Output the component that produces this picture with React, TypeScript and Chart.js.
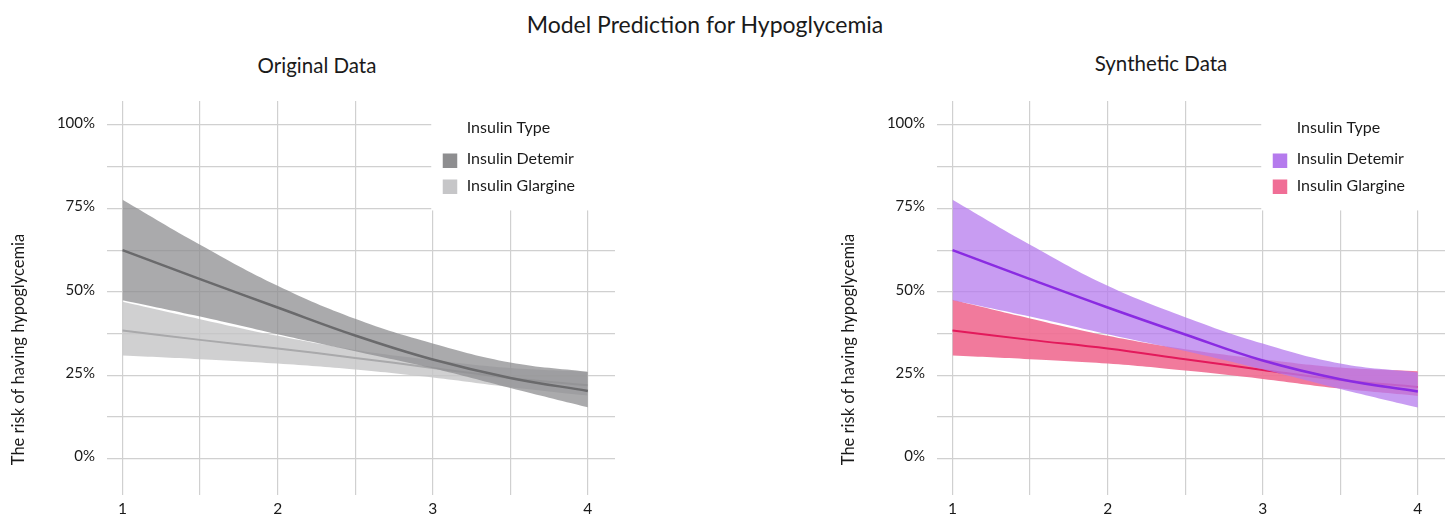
import React, { useEffect, useRef } from 'react';
import { Chart, registerables } from 'chart.js';

Chart.register(...registerables);

const FONT = 'Lato, "Noto Sans", sans-serif';
const TEXT = '#1a1a1a';
const GRID = '#d0d0d0';

const mainTitle = 'Model Prediction for Hypoglycemia';
const panelTitles = ['Original Data', 'Synthetic Data'];
const yAxisTitle = 'The risk of having hypoglycemia';
const legendTitle = 'Insulin Type';
const seriesNames = ['Insulin Detemir', 'Insulin Glargine'];

const doses = [1, 1.5, 2, 2.5, 3, 3.5, 4];
const xGrid = [1, 1.5, 2, 2.5, 3, 3.5, 4];
const xLabels = [1, 2, 3, 4];
const yGrid = [0, 12.5, 25, 37.5, 50, 62.5, 75, 87.5, 100];
const yLabels = [0, 25, 50, 75, 100];

// Original data (percent)
const origDetemirFit = [62.5, 53.8, 45.3, 36.9, 29.7, 24.2, 20.3];
const origDetemirHi = [77.6, 64.1, 51.8, 41.9, 34.5, 28.8, 26.0];
const origDetemirLo = [47.5, 42.6, 37.3, 32.2, 27.1, 21.2, 15.4];
const origGlargineFit = [38.4, 35.6, 33.0, 30.2, 27.2, 24.2, 22.0];
const origGlargineHi = [47.0, 41.8, 36.8, 32.6, 29.6, 27.2, 26.1];
const origGlargineLo = [30.9, 29.8, 28.5, 26.7, 24.3, 21.4, 18.9];

// Synthetic data (percent)
const synDetemirFit = [62.5, 53.8, 45.3, 37.2, 29.4, 23.8, 20.1];
const synDetemirHi = [77.6, 64.1, 51.8, 42.4, 34.5, 28.5, 25.8];
const synDetemirLo = [47.5, 42.6, 37.3, 32.3, 26.8, 20.9, 15.3];
const synGlargineFit = [38.4, 35.6, 33.0, 29.8, 26.6, 23.6, 21.5];
const synGlargineHi = [47.6, 42.0, 36.8, 32.8, 29.8, 27.3, 26.2];
const synGlargineLo = [30.9, 29.8, 28.5, 26.4, 23.9, 21.0, 18.8];

const origColors = {
  dBox: '#8e8e90', dBand: 'rgba(142,142,144,0.75)', dLine: '#6a6a6c',
  gBox: '#c6c6c8', gBand: 'rgba(196,196,198,0.8)', gLine: '#a9a9ab',
};
const synColors = {
  dBox: '#b57bed', dBand: 'rgba(181,123,237,0.75)', dLine: '#8a2be2',
  gBox: '#f06e96', gBand: 'rgba(239,108,145,0.9)', gLine: '#e3195b',
};

type Series = { dFit: number[]; dHi: number[]; dLo: number[]; gFit: number[]; gHi: number[]; gLo: number[] };
type Colors = typeof origColors;

const pts = (arr: number[]) => doses.map((x, i) => ({ x, y: arr[i] }));

function buildDatasets(s: Series, c: Colors): any[] {
  const base = { pointRadius: 0, pointHoverRadius: 0, tension: 0.4 };
  return [
    { ...base, label: seriesNames[0] + ' upper', data: pts(s.dHi), borderWidth: 0, borderColor: 'transparent', backgroundColor: c.dBand, fill: { target: 1 }, order: 1 },
    { ...base, label: seriesNames[0] + ' lower', data: pts(s.dLo), borderWidth: 0, borderColor: 'transparent', fill: false, order: 1 },
    { ...base, label: seriesNames[0], data: pts(s.dFit), borderWidth: 2.5, borderColor: c.dLine, fill: false, order: 0 },
    { ...base, label: seriesNames[1] + ' upper', data: pts(s.gHi), borderWidth: 0, borderColor: 'transparent', backgroundColor: c.gBand, fill: { target: 4 }, order: 3 },
    { ...base, label: seriesNames[1] + ' lower', data: pts(s.gLo), borderWidth: 0, borderColor: 'transparent', fill: false, order: 3 },
    { ...base, label: seriesNames[1], data: pts(s.gFit), borderWidth: 2, borderColor: c.gLine, fill: false, order: 2 },
  ];
}

function decorPlugin(c: Colors) {
  return {
    id: 'panelDecor',
    beforeDatasetsDraw(chart: any) {
      const { ctx, chartArea, scales } = chart;
      const L = scales.x.getPixelForValue(3);
      const B = scales.y.getPixelForValue(75) + 2;
      const T = chartArea.top;
      ctx.save();
      ctx.fillStyle = '#ffffff';
      ctx.fillRect(L - 1.5, 0, chart.width - L + 1.5, B);
      ctx.fillStyle = TEXT;
      ctx.font = `16px ${FONT}`;
      ctx.textBaseline = 'middle';
      ctx.textAlign = 'left';
      ctx.fillText(legendTitle, L + 34, T + 27);
      ctx.fillStyle = c.dBox;
      ctx.fillRect(L + 10, T + 52.5, 14.5, 14.5);
      ctx.fillStyle = c.gBox;
      ctx.fillRect(L + 10, T + 78.5, 14.5, 14.5);
      ctx.fillStyle = TEXT;
      ctx.fillText(seriesNames[0], L + 34, T + 57.5);
      ctx.fillText(seriesNames[1], L + 34, T + 85);
      ctx.restore();
    },
    afterDraw(chart: any) {
      const { ctx, scales } = chart;
      ctx.save();
      ctx.translate(19, scales.y.getPixelForValue(32.7));
      ctx.rotate(-Math.PI / 2);
      ctx.fillStyle = TEXT;
      ctx.font = `16.5px ${FONT}`;
      ctx.textAlign = 'center';
      ctx.textBaseline = 'middle';
      ctx.fillText(yAxisTitle, 0, 0);
      ctx.restore();
    },
  };
}

function makeChart(canvas: HTMLCanvasElement, s: Series, c: Colors, padRight: number) {
  return new Chart(canvas, {
    type: 'line',
    data: { datasets: buildDatasets(s, c) },
    options: {
      animation: false,
      responsive: false,
      devicePixelRatio: 1,
      layout: { padding: { top: 11, right: padRight, left: 0, bottom: 0 } },
      plugins: { legend: { display: false }, title: { display: false }, tooltip: { enabled: false } },
      scales: {
        x: {
          type: 'linear',
          min: 0.9,
          max: 4.175,
          afterFit: (scale: any) => { scale.height = 19; scale.paddingLeft = 0; scale.paddingRight = 0; },
          afterBuildTicks: (scale: any) => { scale.ticks = xGrid.map((v) => ({ value: v })); },
          grid: { color: GRID, lineWidth: 1.2, drawTicks: false },
          border: { display: false },
          ticks: {
            autoSkip: false,
            maxRotation: 0,
            padding: 5,
            color: TEXT,
            font: { family: FONT, size: 15.5 },
            callback: (v: any) => (xLabels.includes(Number(v)) ? String(v) : ''),
          },
        },
        y: {
          type: 'linear',
          min: -10.9,
          max: 107.2,
          afterFit: (scale: any) => { scale.width = 107; scale.paddingTop = 0; scale.paddingBottom = 0; },
          afterBuildTicks: (scale: any) => { scale.ticks = yGrid.map((v) => ({ value: v })); },
          grid: { color: GRID, lineWidth: 1.2, drawTicks: false },
          border: { display: false },
          ticks: {
            autoSkip: false,
            padding: 12,
            labelOffset: -2,
            color: TEXT,
            font: { family: FONT, size: 15 },
            callback: (v: any) => (yLabels.includes(Number(v)) ? `${v}%` : ''),
          },
        },
      },
    } as any,
    plugins: [decorPlugin(c)],
  });
}

export default function App() {
  const leftRef = useRef<HTMLCanvasElement>(null);
  const rightRef = useRef<HTMLCanvasElement>(null);

  useEffect(() => {
    const charts: Chart[] = [];
    if (leftRef.current) {
      charts.push(makeChart(leftRef.current, {
        dFit: origDetemirFit, dHi: origDetemirHi, dLo: origDetemirLo,
        gFit: origGlargineFit, gHi: origGlargineHi, gLo: origGlargineLo,
      }, origColors, 10));
    }
    if (rightRef.current) {
      charts.push(makeChart(rightRef.current, {
        dFit: synDetemirFit, dHi: synDetemirHi, dLo: synDetemirLo,
        gFit: synGlargineFit, gHi: synGlargineHi, gLo: synGlargineLo,
      }, synColors, 0));
    }
    return () => charts.forEach((ch) => ch.destroy());
  }, []);

  const textBase: React.CSSProperties = {
    position: 'absolute', textAlign: 'center', color: TEXT, fontFamily: FONT, lineHeight: 1, whiteSpace: 'nowrap',
  };

  return (
    <div style={{ position: 'fixed', left: 0, top: 0, width: 1445, height: 514, background: '#fff', overflow: 'hidden' }}>
      <div style={{ ...textBase, left: 305, width: 800, top: 13, fontSize: 23 }}>{mainTitle}</div>
      <div style={{ ...textBase, left: 117, width: 400, top: 55, fontSize: 20.5 }}>{panelTitles[0]}</div>
      <div style={{ ...textBase, left: 961, width: 400, top: 53, fontSize: 20.5 }}>{panelTitles[1]}</div>
      <canvas ref={leftRef} width={625} height={424} style={{ position: 'absolute', left: 0, top: 90, width: 625, height: 424 }} />
      <canvas ref={rightRef} width={615} height={424} style={{ position: 'absolute', left: 830, top: 90, width: 615, height: 424 }} />
    </div>
  );
}
